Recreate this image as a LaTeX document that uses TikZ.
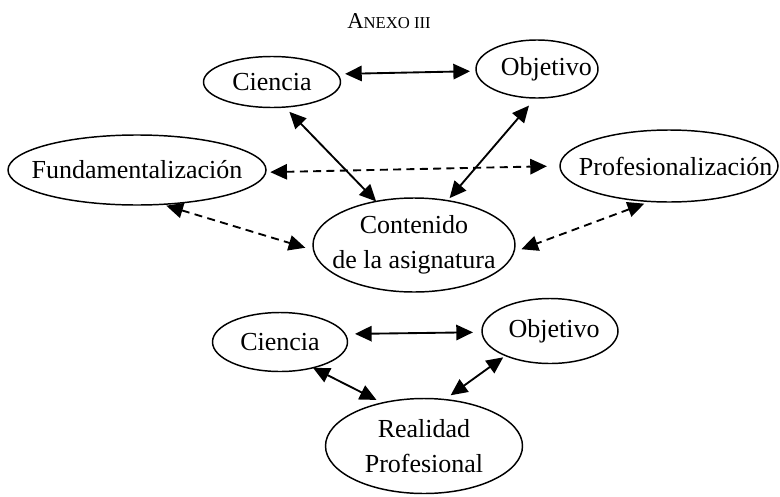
\documentclass[tikz,border=0pt]{standalone}
\usepackage{fontspec}
\setmainfont{Liberation Serif}
\usetikzlibrary{shapes.geometric,arrows.meta}

\begin{document}
\begin{tikzpicture}[x=0.75pt,y=-0.75pt,
		every node/.style={inner sep=0pt,outer sep=0pt,font=\fontsize{19.5}{26}\selectfont},
		oval/.style={ellipse,draw,line width=1.1pt},
		link/.style={{Triangle[length=12.5pt,width=11.5pt]}-{Triangle[length=12.5pt,width=11.5pt]},line width=1.4pt},
		dlink/.style={link,dash pattern=on 6pt off 4pt}]
			\useasboundingbox (0,0) rectangle (780,496);
			\node (titulo) at (389,21) {{\fontsize{17}{19}\selectfont A}{\fontsize{12.5}{15}\selectfont NEXO III}};
			\node[oval,minimum width=102.75pt,minimum height=38.25pt,label=center:Ciencia] (cienA) at (272,82) {};
			\node[oval,minimum width=91.5pt,minimum height=43.5pt,label={[xshift=7pt]center:Objetivo}] (objA) at (537,69) {};
			\node[oval,minimum width=193.5pt,minimum height=52.5pt,label=center:Fundamentalización] (fund) at (137,170) {};
			\node[oval,minimum width=163.5pt,minimum height=54pt,label={[xshift=5pt]center:Profesionalización}] (prof) at (669,166) {};
			\node[oval,minimum width=151.5pt,minimum height=70.5pt,label={[align=center]center:{Contenido\\de la asignatura}}] (cont) at (414,245) {};
			\node[oval,minimum width=101.25pt,minimum height=44.25pt,label=center:Ciencia] (cienB) at (280,342) {};
			\node[oval,minimum width=102pt,minimum height=48.75pt,label={[xshift=3pt]center:Objetivo}] (objB) at (550,331) {};
			\node[oval,minimum width=147.75pt,minimum height=71.25pt,label={[align=center]center:{Realidad\\Profesional}}] (real) at (424,446) {};
			\draw[link,shorten <=6pt,shorten >=4.6pt] (cienA.7) -- (objA.182);
			\draw[link,shorten <=5pt] (cienA.-63) -- (cont.131);
			\draw[link,shorten <=7.5pt,shorten >=2.5pt] (objA.-93) -- (cont.53);
			\draw[dlink,shorten <=3.4pt,shorten >=9.8pt] (fund.-1) -- (prof.180);
			\draw[dlink,shorten <=3.4pt,shorten >=6.5pt] (fund.-54) -- (cont.183);
			\draw[dlink,shorten <=4.7pt,shorten >=6pt] (prof.-118) -- (cont.-4);
			\draw[link,shorten <=7.5pt,shorten >=6.8pt] (cienB.7) -- (objB.181);
			\draw[link,shorten >=5pt] (cienB.-38) -- (real.134);
			\draw[link,shorten <=2.2pt,shorten >=5.5pt] (objB.-151) -- (real.66);
		\end{tikzpicture}
\end{document}
